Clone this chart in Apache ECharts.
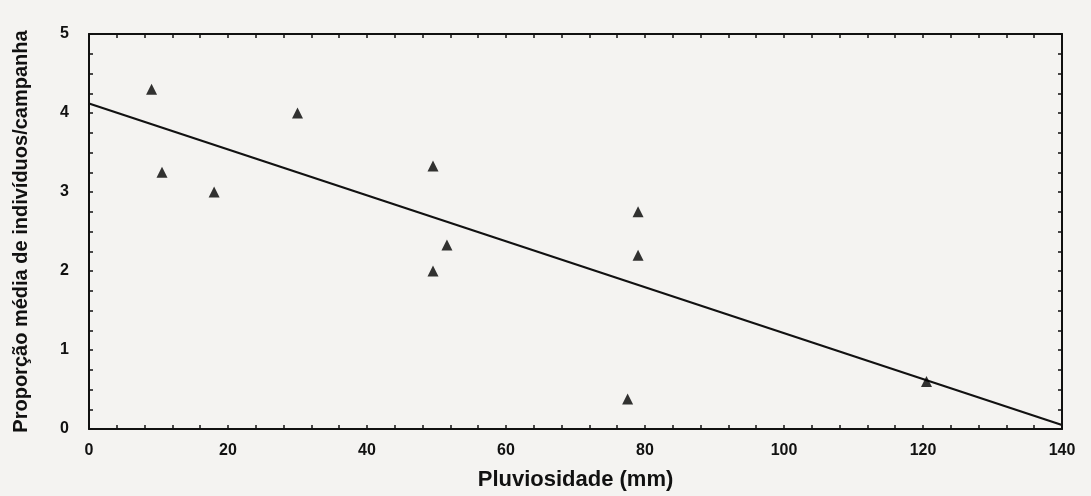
<!DOCTYPE html>
<html>
<head>
<meta charset="utf-8">
<script src="https://cdn.jsdelivr.net/npm/echarts@6/dist/echarts.min.js"></script>
<style>
html,body{margin:0;padding:0;background:#f4f3f1;}
#c{width:1091px;height:496px;}
</style>
</head>
<body>
<div id="c"></div>
<script>
const rainfall = [9, 10.5, 18, 30, 49.5, 51.5, 49.5, 79, 79, 77.5, 120.5];
const proportion = [4.3, 3.25, 3.0, 4.0, 3.33, 2.33, 2.0, 2.75, 2.2, 0.38, 0.6];
const fitX = [0, 140];
const fitY = [4.12, 0.05];
const xTitle = 'Pluviosidade (mm)';
const yTitle = 'Proporção média de indivíduos/campanha';

const points = rainfall.map((x, i) => [x, proportion[i]]);
const fit = fitX.map((x, i) => [x, fitY[i]]);

const FONT = 'Liberation Sans, Arial, sans-serif';
const lab = {color:'#111', fontFamily:FONT, fontWeight:'bold', fontSize:16};
const axLine = {show:true, onZero:false, lineStyle:{color:'#111', width:2}};
const tick = {show:true, inside:true, length:4, lineStyle:{color:'#111', width:1.5}};
const minor = (n) => ({show:true, splitNumber:n, length:4, lineStyle:{color:'#111', width:1.5}});

const chart = echarts.init(document.getElementById('c'));
chart.setOption({
  backgroundColor:'#f4f3f1',
  animation:false,
  grid:{left:89, right:29, top:34, bottom:66},
  xAxis:[
    {type:'value', min:0, max:140, interval:20, position:'bottom',
     axisLine:axLine, axisTick:tick, minorTick:minor(5), splitLine:{show:false},
     axisLabel:Object.assign({margin:14}, lab),
     name:xTitle, nameLocation:'middle', nameGap:40,
     nameTextStyle:{color:'#111', fontFamily:FONT, fontWeight:'bold', fontSize:22}},
    {type:'value', min:0, max:140, interval:20, position:'top',
     axisLine:axLine, axisTick:tick, minorTick:minor(5), splitLine:{show:false}, axisLabel:{show:false}}
  ],
  yAxis:[
    {type:'value', min:0, max:5, interval:1, position:'left',
     axisLine:axLine, axisTick:tick, minorTick:minor(4), splitLine:{show:false},
     axisLabel:Object.assign({margin:20}, lab),
     name:yTitle, nameLocation:'middle', nameGap:58,
     nameTextStyle:{color:'#111', fontFamily:FONT, fontWeight:'bold', fontSize:20}},
    {type:'value', min:0, max:5, interval:1, position:'right',
     axisLine:axLine, axisTick:tick, minorTick:minor(4), splitLine:{show:false}, axisLabel:{show:false}}
  ],
  series:[
    {type:'line', data:fit, xAxisIndex:0, yAxisIndex:0, showSymbol:false, symbol:'none',
     lineStyle:{color:'#111', width:2.2}, z:2},
    {type:'scatter', data:points, xAxisIndex:0, yAxisIndex:0, symbol:'triangle', symbolSize:11,
     itemStyle:{color:'#000'}, z:3}
  ]
});
</script>
</body>
</html>
